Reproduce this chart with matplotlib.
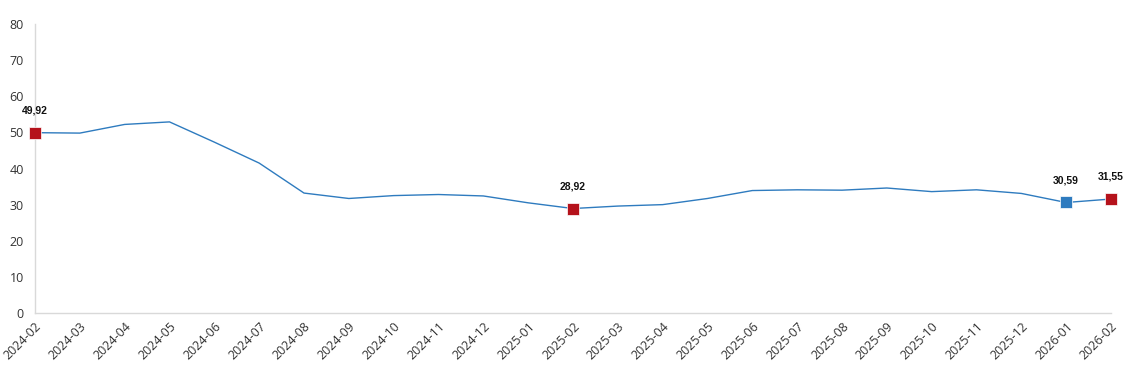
import matplotlib
matplotlib.use("Agg")
import matplotlib.pyplot as plt

plt.rcParams['font.family'] = ['Open Sans', 'DejaVu Sans']

# Monthly values
months = ["2024-02", "2024-03", "2024-04", "2024-05", "2024-06", "2024-07",
          "2024-08", "2024-09", "2024-10", "2024-11", "2024-12", "2025-01",
          "2025-02", "2025-03", "2025-04", "2025-05", "2025-06", "2025-07",
          "2025-08", "2025-09", "2025-10", "2025-11", "2025-12", "2026-01",
          "2026-02"]
values = [49.92, 49.8, 52.2, 52.9, 47.3, 41.5, 33.2, 31.7, 32.5, 32.8, 32.4,
          30.5, 28.92, 29.6, 30.0, 31.7, 33.9, 34.1, 34.0, 34.6, 33.6, 34.1,
          33.1, 30.59, 31.55]

# highlighted points: index -> colour
highlights = {0: "#b5121b", 12: "#b5121b", 23: "#2e7bbf", 24: "#b5121b"}

fig = plt.figure(figsize=(11.31, 3.72), dpi=100)
ax = fig.add_axes([35 / 1131, 1 - 313 / 372, (1111 - 35) / 1131, (313 - 24) / 372])

x = list(range(len(months)))
ax.plot(x, values, color="#2e7bbf", linewidth=1.0, zorder=2)

for i, c in highlights.items():
    ax.plot(x[i], values[i], marker="s", markersize=9, color=c,
            markeredgecolor="white", markeredgewidth=0.5, zorder=3, clip_on=False)
    ax.annotate(f"{values[i]:.2f}".replace(".", ","), (x[i], values[i]),
                xytext=(0, 16), textcoords="offset points", ha="center",
                va="center", fontsize=7.5, fontweight="bold", color="#111111",
                family=["Liberation Sans", "DejaVu Sans"], annotation_clip=False)

ax.set_xlim(0, len(months) - 1)
ax.set_ylim(0, 80)
ax.set_yticks(range(0, 81, 10))
ax.set_xticks(x)
ax.set_xticklabels(months, rotation=45, ha="right", rotation_mode="anchor")
ax.tick_params(length=0, labelsize=9, colors="#333333", pad=8)
ax.tick_params(axis="x", pad=5)

for s in ["top", "right"]:
    ax.spines[s].set_visible(False)
for s in ["left", "bottom"]:
    ax.spines[s].set_color("#d9d9d9")
    ax.spines[s].set_linewidth(1)

fig.savefig("out.png", dpi=100)
